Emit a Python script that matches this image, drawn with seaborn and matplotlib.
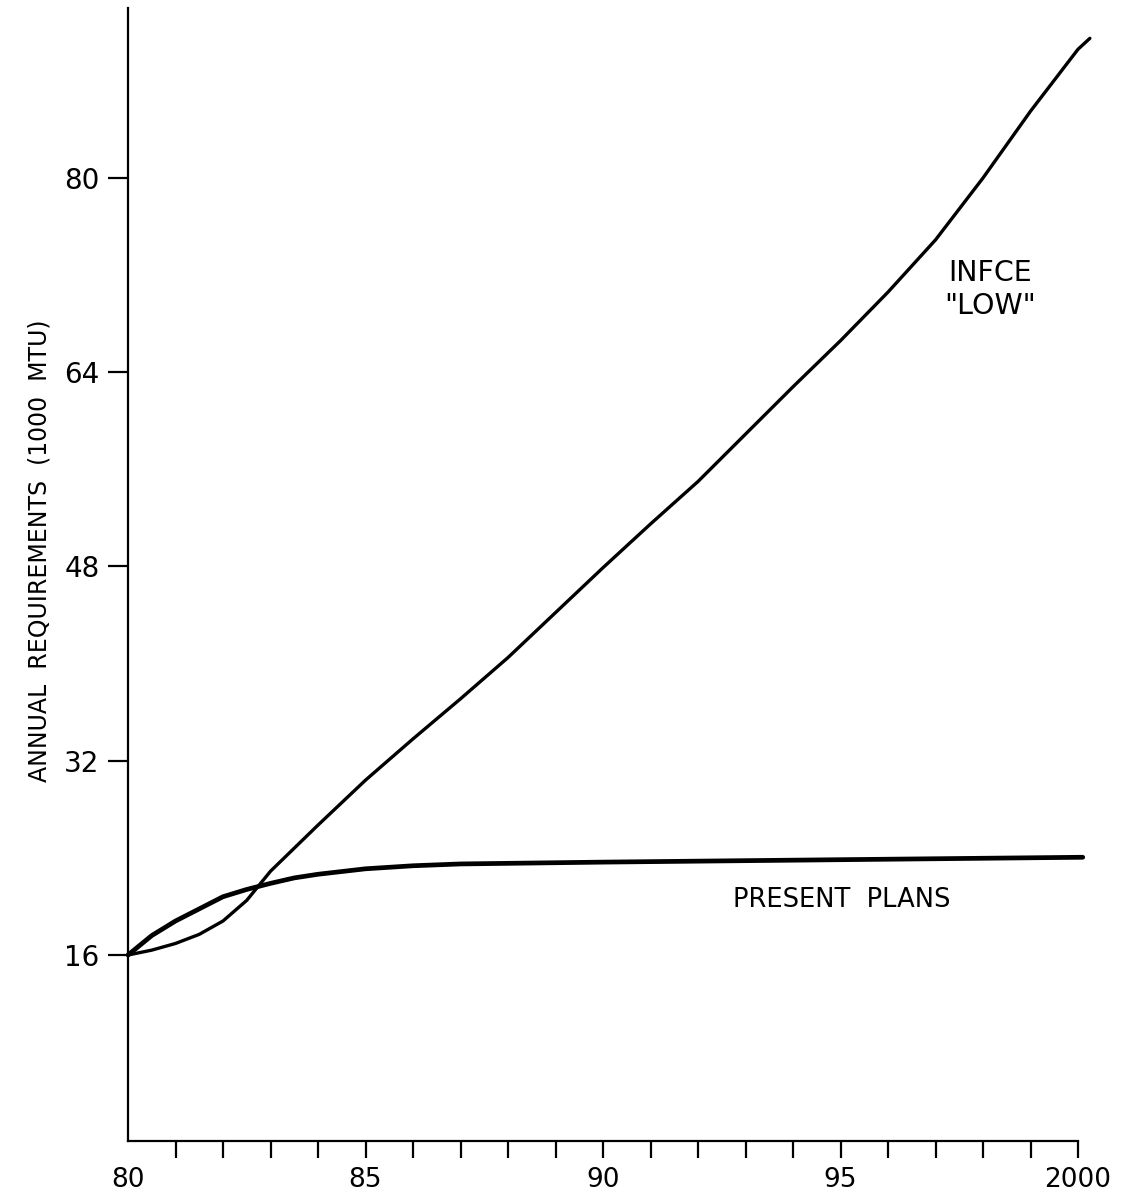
import numpy as np
import pandas as pd
import matplotlib
matplotlib.use("Agg")
import matplotlib.pyplot as plt
from matplotlib.ticker import MultipleLocator
import seaborn as sns

# ---- data ----
infce_years = [80, 80.5, 81, 81.5, 82, 82.5, 83, 84, 85, 86, 87, 88, 89, 90,
               91, 92, 93, 94, 95, 96, 97, 98, 99, 100, 100.25]
infce_vals = [16.0, 16.4, 16.95, 17.7, 18.8, 20.5, 22.9, 26.7, 30.4, 33.8, 37.1,
              40.5, 44.2, 47.9, 51.5, 55.0, 58.9, 62.8, 66.6, 70.6, 74.9,
              80.0, 85.5, 90.6, 91.5]

present_years = [80, 80.5, 81, 81.5, 82, 82.5, 83, 83.5, 84, 85, 86, 87, 88,
                 90, 95, 100.1]
present_vals = [16.0, 17.6, 18.8, 19.8, 20.8, 21.4, 21.9, 22.35, 22.65, 23.1,
                23.35, 23.5, 23.55, 23.65, 23.85, 24.05]

x_ticks = [80, 85, 90, 95, 100]
x_tick_labels = ["80", "85", "90", "95", "2000"]
y_ticks = [16, 32, 48, 64, 80]
y_label = "ANNUAL  REQUIREMENTS  (1000  MTU)"
label_infce = 'INFCE\n"LOW"'
label_present = "PRESENT  PLANS"

sns.set_style("white")
plt.rcParams["font.family"] = ["DejaVu Sans"]
plt.rcParams["text.color"] = "black"
plt.rcParams["xtick.color"] = "black"
plt.rcParams["ytick.color"] = "black"
plt.rcParams["xtick.labelcolor"] = "black"
plt.rcParams["ytick.labelcolor"] = "black"

df_infce = pd.DataFrame({"year": infce_years, "value": infce_vals})
df_present = pd.DataFrame({"year": present_years, "value": present_vals})

fig = plt.figure(figsize=(11.26, 11.95), dpi=100)
ax = fig.add_axes([128 / 1126, 1 - 1141 / 1195, (1078 - 128) / 1126, (1141 - 8) / 1195])

sns.lineplot(data=df_infce, x="year", y="value", ax=ax, color="black",
             linewidth=2.4, sort=False, estimator=None, clip_on=False)
sns.lineplot(data=df_present, x="year", y="value", ax=ax, color="black",
             linewidth=3.4, sort=False, estimator=None, clip_on=False)

ax.set_xlim(80, 100)
ax.set_ylim(0.68, 94.0)

for s in ["top", "right"]:
    ax.spines[s].set_visible(False)
for s in ["left", "bottom"]:
    ax.spines[s].set_linewidth(1.6)
    ax.spines[s].set_color("black")

ax.set_xticks(x_ticks)
ax.set_xticklabels(x_tick_labels)
ax.xaxis.set_minor_locator(MultipleLocator(1))
ax.set_yticks(y_ticks)
ax.set_yticklabels([str(v) for v in y_ticks])

ax.tick_params(axis="x", which="both", direction="out", length=12.5, width=1.6,
               color="black", pad=6, labelsize=19, bottom=True)
ax.tick_params(axis="y", which="major", direction="out", length=14.5, width=1.6,
               color="black", pad=6, labelsize=20, left=True)
ax.xaxis.get_major_ticks()[0].tick1line.set_visible(False)

ax.set_xlabel("")
ax.set_ylabel("")
fig.text(40 / 1126, 1 - 551 / 1195, y_label, rotation=90, ha="center",
         va="center", fontsize=17)

ax.text(98.15, 70.8, label_infce, ha="center", va="center", fontsize=20.5,
        linespacing=1.2)
ax.text(95.03, 20.5, label_present, ha="center", va="center", fontsize=18.5)

fig.savefig("out.png", dpi=100, facecolor="white")
